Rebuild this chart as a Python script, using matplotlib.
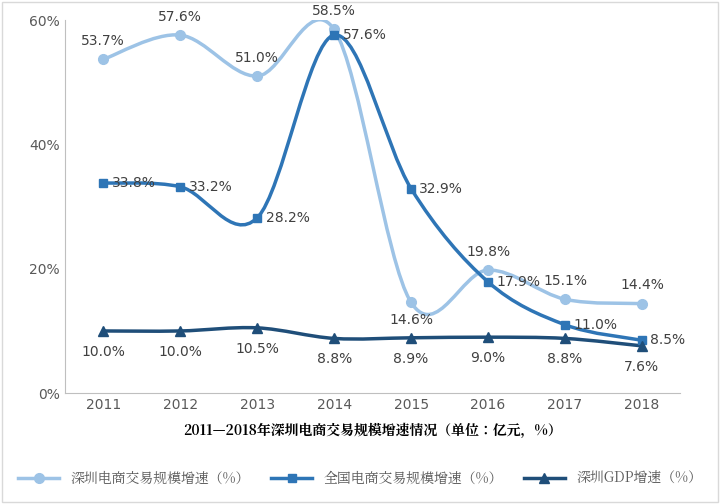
import matplotlib.pyplot as plt
from matplotlib.path import Path
from matplotlib.patches import PathPatch, Rectangle
from matplotlib import font_manager
import numpy as np

# pick a CJK font actually present
cjk = None
for f in font_manager.fontManager.ttflist:
    if 'CJK' in f.name and ('SC' in f.name or cjk is None):
        cjk = f.name
        if 'SC' in f.name:
            break
plt.rcParams['font.family'] = 'sans-serif'
plt.rcParams['font.sans-serif'] = [cjk or 'Noto Sans CJK SC', 'DejaVu Sans']

years = ['2011', '2012', '2013', '2014', '2015', '2016', '2017', '2018']
shenzhen_ec = [53.7, 57.6, 51.0, 58.5, 14.6, 19.8, 15.1, 14.4]
national_ec = [33.8, 33.2, 28.2, 57.6, 32.9, 17.9, 11.0, 8.5]
shenzhen_gdp = [10.0, 10.0, 10.5, 8.8, 8.9, 9.0, 8.8, 7.6]

c1, c2, c3 = '#9DC3E6', '#2E75B6', '#1F4E79'


def smooth_path(x, y, t=0.5):
    # Catmull-Rom style bezier through the data points
    pts = np.column_stack([x, y]).astype(float)
    verts = [pts[0]]
    codes = [Path.MOVETO]
    n = len(pts)
    for i in range(n - 1):
        p0 = pts[max(i - 1, 0)]
        p1 = pts[i]
        p2 = pts[i + 1]
        p3 = pts[min(i + 2, n - 1)]
        verts += [p1 + (p2 - p0) * t / 3, p2 - (p3 - p1) * t / 3, p2]
        codes += [Path.CURVE4] * 3
    return Path(verts, codes)


fig = plt.figure(figsize=(7.2, 5.04), dpi=100)
ax = fig.add_axes([0.09, 0.22, 0.855, 0.74])
x = np.arange(len(years))

for vals, col, mk, ms in [(shenzhen_ec, c1, 'o', 7), (national_ec, c2, 's', 6), (shenzhen_gdp, c3, '^', 7)]:
    ax.add_patch(PathPatch(smooth_path(x, vals), fill=False, ec=col, lw=2.5))
    ax.plot(x, vals, ls='none', marker=mk, color=col, ms=ms)

lab = dict(textcoords='offset points', fontsize=10, color='#404040', family='DejaVu Sans')
for i, v in enumerate(shenzhen_ec):
    dy = -8 if i == 4 else 8
    ax.annotate(f'{v:.1f}%', (i, v), xytext=(0, dy), ha='center',
                va='top' if i == 4 else 'bottom', **lab)
for i, v in enumerate(national_ec):
    ax.annotate(f'{v:.1f}%', (i, v), xytext=(6, 0), ha='left', va='center', **lab)
for i, v in enumerate(shenzhen_gdp):
    ax.annotate(f'{v:.1f}%', (i, v), xytext=(0, -10), ha='center', va='top', **lab)

ax.set_xlim(-0.5, 7.5)
ax.set_ylim(0, 60)
ax.set_yticks([0, 20, 40, 60])
ax.set_yticklabels(['0%', '20%', '40%', '60%'], family='DejaVu Sans')
ax.set_xticks(x)
ax.set_xticklabels(years, family='DejaVu Sans')
ax.tick_params(length=0, labelsize=10, colors='#595959')
for s in ['top', 'right']:
    ax.spines[s].set_visible(False)
for s in ['left', 'bottom']:
    ax.spines[s].set_color('#BFBFBF')
ax.set_xlabel('2011—2018年深圳电商交易规模增速情况（单位：亿元，%）', fontsize=10,
              fontweight='bold', color='black', labelpad=8)

h1, = ax.plot([], [], color=c1, marker='o', lw=2.5, ms=7)
h2, = ax.plot([], [], color=c2, marker='s', lw=2.5, ms=6)
h3, = ax.plot([], [], color=c3, marker='^', lw=2.5, ms=7)
fig.legend([h1, h2, h3], ['深圳电商交易规模增速（%）', '全国电商交易规模增速（%）', '深圳GDP增速（%）'],
           loc='lower center', bbox_to_anchor=(0.5, 0.01), ncol=3, frameon=False,
           fontsize=10, labelcolor='#595959', handlelength=3, columnspacing=1.5)

fig.add_artist(Rectangle((0.003, 0.003), 0.994, 0.994, transform=fig.transFigure,
                         fill=False, ec='#D9D9D9', lw=1))
fig.savefig('out.png', dpi=100)
